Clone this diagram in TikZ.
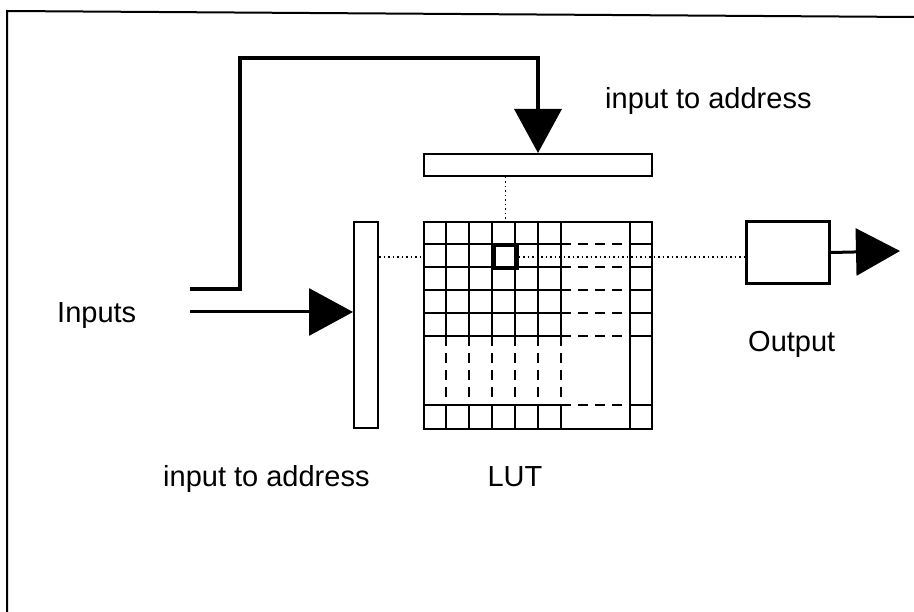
\documentclass[tikz,border=0pt]{standalone}
\usepackage{fontspec}
\setmainfont{Liberation Sans}
\usetikzlibrary{arrows.meta}
\begin{document}
\begin{tikzpicture}[x=1pt,y=-1pt,
  lbl/.style={font=\fontsize{29}{33}\selectfont, inner sep=0pt},
  box/.style={draw, line width=2pt, inner sep=0pt, anchor=north west},
  bigtip/.style={-{Triangle[length=44pt,width=47pt]}},
  gridline/.style={line width=2pt},
  dashline/.style={line width=2pt, dash pattern=on 10pt off 7pt},
  dotline/.style={line width=1.5pt, dash pattern=on 1.5pt off 3pt}]
\fill[white] (0,0) rectangle (914,612);
\useasboundingbox (0,0) rectangle (914,612);
% frame (top and left only)
\draw[line width=2pt] (7,612) -- (7,11) -- (914,17);
% boxes
\node[box, minimum width=228pt, minimum height=22pt] (tbar) at (423,153) {};
\node[box, minimum width=24pt, minimum height=206pt] (lbar) at (353,221) {};
\node[box, line width=3pt, minimum width=83pt, minimum height=62pt] (obox) at (745,220) {};
\node[box, minimum width=228pt, minimum height=207pt] (lut) at (423,221) {};
% grid
\foreach \x in {446,469,492,515,538,561}{
  \draw[gridline] (\x,221) -- (\x,336);
  \draw[dashline] (\x,336) -- (\x,405);
  \draw[gridline] (\x,405) -- (\x,428);
}
\draw[gridline] (630,221) -- (630,428);
\foreach \y in {244,267,290,313,336,405}{
  \draw[gridline] (423,\y) -- (561,\y);
  \draw[dashline] (561,\y) -- (630,\y);
  \draw[gridline] (630,\y) -- (651,\y);
}
\node[box, line width=3.5pt, minimum width=23pt, minimum height=23pt] (cell) at (492,244) {};
% dotted address lines
\draw[dotline] (lbar.east |- cell.east) -- (lut.west |- cell.east);
\draw[dotline] (cell.east) -- (obox.west |- cell.east);
\draw[dotline] (tbar.south -| cell.center) -- (cell.center |- lut.north);
% inputs
\coordinate (in1) at (190,289);
\coordinate (in2) at (190,312);
\coordinate (fbc) at (538,58);
\draw[line width=3.5pt, bigtip] (in1) -| (240,58) -- (fbc) -- (fbc |- tbar.north);
\draw[line width=3pt, bigtip] (in2) -- (in2 -| lbar.west);
% output
\coordinate (out) at (900,251);
\draw[line width=3pt, bigtip] (obox.east) -- (out);
% labels
\node[lbl, anchor=base west] (linputs) at (57,323) {Inputs};
\node[lbl, anchor=base west] (laddr1) at (163,487) {input to address};
\node[lbl, anchor=base] (llut) at (515,487) {LUT};
\node[lbl, anchor=base west] (laddr2) at (605,109) {input to address};
\node[lbl, anchor=base west] (lout) at (748,352) {Output};
\end{tikzpicture}
\end{document}
